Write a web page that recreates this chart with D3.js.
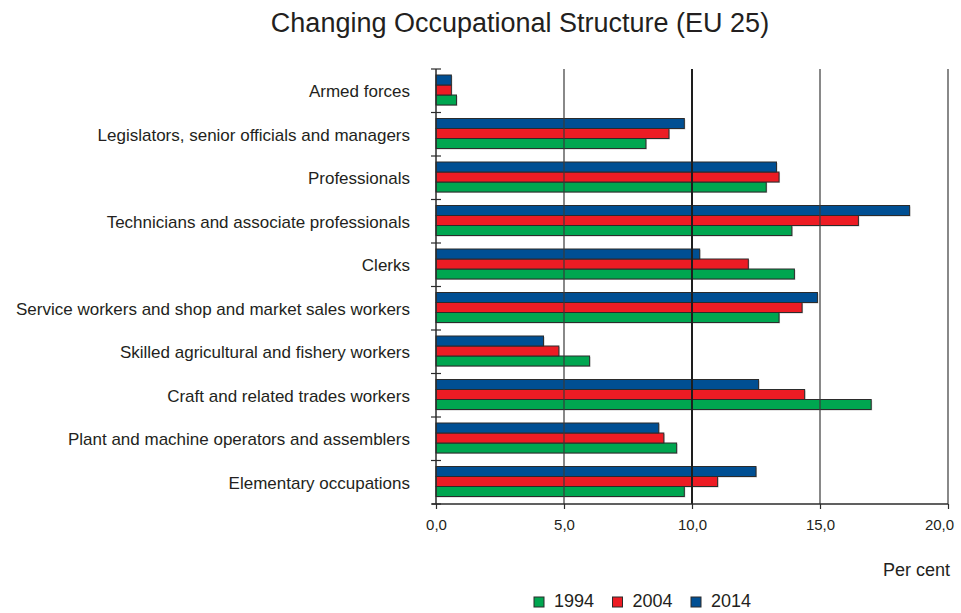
<!DOCTYPE html>
<html>
<head>
<meta charset="utf-8">
<script src="https://cdn.jsdelivr.net/npm/d3@7"></script>
<style>
  body { margin: 0; background: #fff; }
  text { font-family: "Liberation Sans", Arial, sans-serif; fill: #231f20; }
</style>
</head>
<body>
<div id="chart"></div>
<script>
var categories = [
    "Armed forces",
    "Legislators, senior officials and managers",
    "Professionals",
    "Technicians and associate professionals",
    "Clerks",
    "Service workers and shop and market sales workers",
    "Skilled agricultural and fishery workers",
    "Craft and related trades workers",
    "Plant and machine operators and assemblers",
    "Elementary occupations"
];
var years = ["1994", "2004", "2014"];
var values1994 = [0.8, 8.2, 12.9, 13.9, 14.0, 13.4, 6.0, 17.0, 9.4, 9.7];
var values2004 = [0.6, 9.1, 13.4, 16.5, 12.2, 14.3, 4.8, 14.4, 8.9, 11.0];
var values2014 = [0.6, 9.7, 13.3, 18.5, 10.3, 14.9, 4.2, 12.6, 8.7, 12.5];
var xTicks = [0, 5, 10, 15, 20];
var colors = { "1994": "#00a650", "2004": "#ed1c24", "2014": "#004f93" };

var seriesValues = { "1994": values1994, "2004": values2004, "2014": values2014 };

var margin = { top: 69, right: 13, bottom: 109, left: 436 },
    width = 961 - margin.left - margin.right,
    height = 613 - margin.top - margin.bottom;

var svg = d3.select("#chart")
    .append("svg")
    .attr("width", 961)
    .attr("height", 613);

svg.append("text")
    .attr("x", 520)
    .attr("y", 32)
    .style("font-size", "27px")
    .style("text-anchor", "middle")
    .text("Changing Occupational Structure (EU 25)");

var g = svg.append("g")
    .attr("transform", "translate(" + margin.left + "," + margin.top + ")");

var x = d3.scaleLinear()
    .domain([0, 20])
    .range([0, width]);

var y = d3.scaleBand()
    .domain(categories)
    .range([0, height]);

// 2014 on top, then 2004, then 1994
var ySub = d3.scaleBand()
    .domain(["2014", "2004", "1994"])
    .range([6, 36]);

var rows = categories.map(function (c, i) {
    return years.map(function (yr) {
        return { cat: c, year: yr, value: seriesValues[yr][i] };
    });
});

var groups = g.selectAll(".row")
    .data(rows)
    .enter().append("g")
    .attr("class", "row")
    .attr("transform", function (d) { return "translate(0," + y(d[0].cat) + ")"; });

// soft shadow behind the bars
groups.selectAll(".shadow")
    .data(function (d) { return d; })
    .enter().append("rect")
    .attr("x", 1)
    .attr("y", function (d) { return ySub(d.year) + 1; })
    .attr("width", function (d) { return x(d.value); })
    .attr("height", ySub.bandwidth())
    .attr("fill", "#c8c8c8");

groups.selectAll(".bar")
    .data(function (d) { return d; })
    .enter().append("rect")
    .attr("class", "bar")
    .attr("x", 0)
    .attr("y", function (d) { return ySub(d.year); })
    .attr("width", function (d) { return x(d.value); })
    .attr("height", ySub.bandwidth())
    .attr("fill", function (d) { return colors[d.year]; })
    .attr("stroke", "#2b2b2b")
    .attr("stroke-width", 1);

// vertical grid lines over the bars
g.selectAll(".grid")
    .data(xTicks.slice(1))
    .enter().append("line")
    .attr("x1", function (d) { return x(d); })
    .attr("x2", function (d) { return x(d); })
    .attr("y1", 0)
    .attr("y2", height)
    .attr("stroke", function (d) { return d === 10 ? "#1e1e1e" : "#3a3a3a"; })
    .attr("stroke-width", function (d) { return d === 10 ? 2 : 1.2; });

// bottom axis
var xAxis = g.append("g")
    .attr("transform", "translate(0," + height + ")")
    .call(d3.axisBottom(x)
        .tickValues(xTicks)
        .tickSize(5)
        .tickPadding(10)
        .tickFormat(function (d) { return d3.format(".1f")(d).replace(".", ","); }));
xAxis.select(".domain").attr("d", "M-4,0H" + width).attr("stroke", "#2b2b2b").attr("stroke-width", 1.5);
xAxis.selectAll(".tick line").attr("stroke", "#2b2b2b").attr("stroke-width", 1.2);
xAxis.selectAll(".tick text")
    .style("font-size", "15px")
    .style("font-family", "'Liberation Sans', Arial, sans-serif")
    .attr("fill", "#231f20")
    .attr("dx", function (d) { return d === 20 ? -9 : 0; });

// left axis: ticks between categories
g.append("line")
    .attr("x1", 0).attr("x2", 0)
    .attr("y1", 0).attr("y2", height)
    .attr("stroke", "#2b2b2b")
    .attr("stroke-width", 1.5);

var bounds = categories.map(function (c) { return y(c); }).concat([height]);
g.selectAll(".ytick")
    .data(bounds)
    .enter().append("line")
    .attr("x1", -5).attr("x2", 5)
    .attr("y1", function (d) { return d; })
    .attr("y2", function (d) { return d; })
    .attr("stroke", "#2b2b2b")
    .attr("stroke-width", 1.2);

g.selectAll(".ylabel")
    .data(categories)
    .enter().append("text")
    .attr("x", -26)
    .attr("y", function (d) { return y(d) + y.bandwidth() / 2; })
    .attr("dy", "0.38em")
    .style("font-size", "17px")
    .style("text-anchor", "end")
    .text(function (d) { return d; });

svg.append("text")
    .attr("x", 950)
    .attr("y", 576)
    .style("font-size", "18px")
    .style("text-anchor", "end")
    .text("Per cent");

// legend
var legend = svg.selectAll(".legend")
    .data(years)
    .enter().append("g")
    .attr("transform", function (d, i) { return "translate(" + (534 + i * 78.5) + ",597)"; });

legend.append("rect")
    .attr("width", 10)
    .attr("height", 10)
    .attr("fill", function (d) { return colors[d]; })
    .attr("stroke", "#2b2b2b")
    .attr("stroke-width", 1);

legend.append("text")
    .attr("x", 20)
    .attr("y", 10)
    .style("font-size", "18px")
    .text(function (d) { return d; });
</script>
</body>
</html>
